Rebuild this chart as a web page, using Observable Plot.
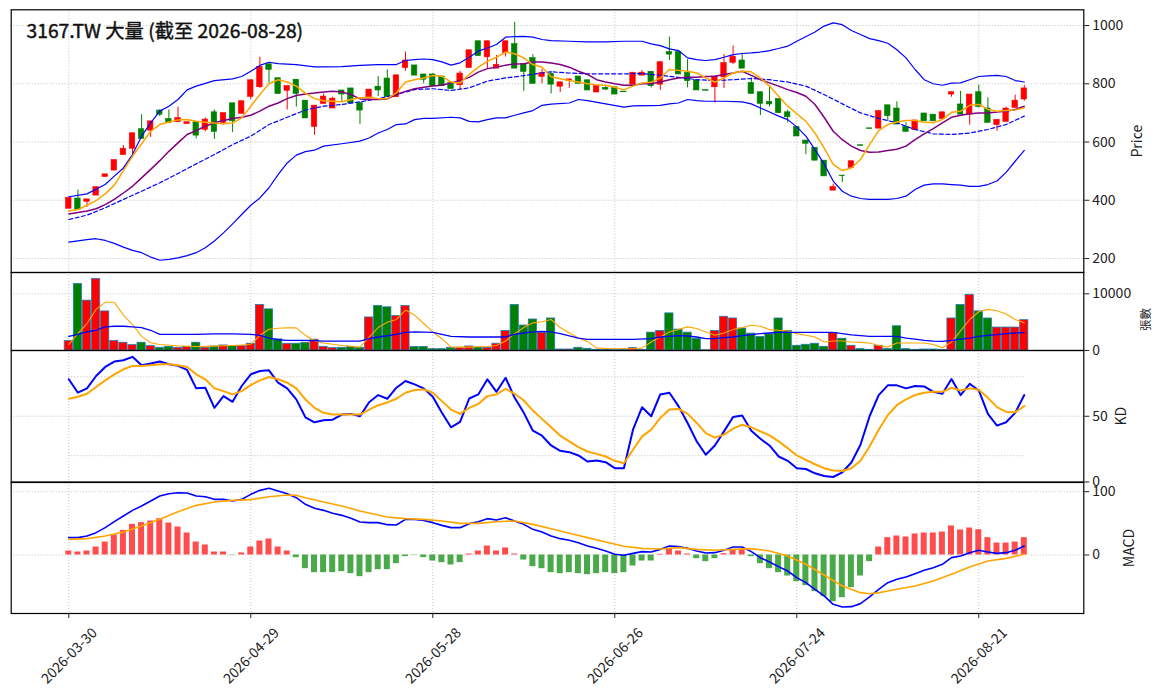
<!DOCTYPE html>
<html><head><meta charset="utf-8">
<script src="https://cdn.jsdelivr.net/npm/d3@7"></script>
<script src="https://cdn.jsdelivr.net/npm/@observablehq/plot@0.6"></script>
<style>
html,body{margin:0;padding:0;background:#fff;}
#chart{width:1163px;height:698px;position:relative;}
#chart svg{display:block;overflow:visible;}
</style></head><body><div id="chart"></div>
<script>
// ---------------- data ----------------
const titleText = "3167.TW 大量 (截至 2026-08-28)";
const tickIdx = [0, 20, 40, 60, 80, 100];
const tickLabels = ["2026-03-30", "2026-04-29", "2026-05-28", "2026-06-26", "2026-07-24", "2026-08-21"];

const open  = [371,406,395,416,480,502,555,577,644,639,708,679,668,662,668,642,702,666,733,697,755,788,867,819,776,814,742,652,731,715,777,784,734,749,790,818,754,854,863,832,832,825,803,795,854,946,891,852,906,936,868,888,824,834,790,809,825,812,770,786,788,773,797,828,841,797,909,909,837,812,778,788,822,872,880,803,771,738,748,702,651,605,580,536,433,485,511,589,647,646,726,715,652,641,698,694,679,763,729,694,771,715,658,669,717,746];
const high  = [408,435,403,445,489,538,588,630,694,671,711,710,720,668,668,683,710,699,733,740,812,891,867,819,792,814,742,725,765,754,777,784,734,780,825,848,829,909,863,832,834,825,803,843,915,946,946,897,946,1011,868,900,849,843,805,815,825,812,792,792,788,773,838,845,843,874,960,909,883,812,778,825,900,930,905,820,771,792,748,709,651,605,580,536,456,485,534,589,647,709,726,738,666,674,698,694,702,771,774,763,795,752,676,720,761,795];
const low   = [371,368,376,416,480,502,555,557,611,616,687,666,668,662,611,635,609,658,633,697,746,784,802,765,710,720,681,623,731,715,740,733,660,749,756,754,754,843,828,800,792,792,782,779,854,895,849,852,892,852,774,800,800,765,770,784,800,777,770,777,763,771,797,828,786,777,880,832,786,777,776,734,784,866,852,765,691,720,699,666,619,557,536,482,433,461,511,587,645,646,671,660,635,641,671,671,679,754,694,658,717,666,637,669,717,740];
const close = [408,368,403,445,489,538,577,630,611,671,694,666,682,668,622,677,635,699,671,740,812,857,848,765,792,765,681,725,756,749,763,733,708,780,777,754,829,880,828,814,792,792,782,835,915,895,946,865,946,852,841,800,837,797,805,815,800,777,792,780,763,771,838,838,792,874,900,832,809,777,776,825,871,893,852,765,731,729,699,685,619,594,536,482,445,483,534,587,645,706,689,660,635,674,671,671,702,771,694,763,721,666,676,715,742,784];
const volume = [1666,11720,8800,12610,6900,1670,1370,950,1370,770,480,650,480,600,1370,480,710,890,770,770,1190,8030,7260,1960,1190,1190,1370,1900,650,420,480,650,480,5830,7850,7620,6070,7850,600,600,240,240,480,480,710,540,480,1190,3450,8030,4400,5470,3090,5650,180,180,480,300,120,120,120,180,420,120,3150,3450,6550,3690,3150,2080,50,3450,5950,5650,3870,2975,2380,2860,5650,3450,830,1010,1190,650,3090,2080,830,240,120,830,240,4280,240,120,180,180,120,5650,8030,9820,6900,5650,4050,4050,4050,5350];

// price overlays [bar index, value]
const ma5 = [[0,363],[1,368],[2,383],[3,399],[4,422],[5,452],[6,502],[7,551],[8,594],[9,637],[10,660],[11,669],[12,676],[13,677],[14,671],[15,668],[16,665],[17,663],[18,665],[19,683],[20,723],[21,763],[22,800],[23,814],[24,806],[25,792],[26,768],[27,749],[28,742],[29,740],[30,738],[31,746],[32,752],[33,754],[34,749],[35,749],[36,769],[37,806],[38,814],[39,820],[40,828],[41,826],[42,806],[43,803],[44,832],[45,857],[46,877],[47,891],[48,909],[49,903],[50,889],[51,866],[52,857],[53,824],[54,817],[55,811],[56,806],[57,800],[58,797],[59,795],[60,788],[61,779],[62,792],[63,803],[64,805],[65,820],[66,849],[67,846],[68,843],[69,837],[70,820],[71,806],[72,820],[73,837],[74,843],[75,841],[76,820],[77,792],[78,757],[79,723],[80,697],[81,671],[82,631],[83,580],[84,523],[85,502],[86,511],[87,540],[88,591],[89,639],[90,660],[91,669],[92,674],[93,674],[94,668],[95,666],[96,677],[97,702],[98,706],[99,726],[100,729],[101,712],[102,706],[103,708],[104,710],[105,717]];
const ma10 = [[0,353],[2,363],[3,371],[4,385],[5,403],[6,425],[7,448],[8,477],[9,506],[10,536],[11,568],[12,597],[13,626],[14,639],[15,654],[16,666],[17,674],[18,681],[19,685],[20,692],[21,706],[22,723],[23,734],[24,749],[25,760],[26,765],[27,768],[28,772],[29,774],[30,772],[31,763],[32,748],[33,746],[34,746],[35,748],[36,763],[37,774],[38,783],[39,788],[40,792],[41,795],[42,803],[43,811],[44,822],[45,840],[46,852],[47,857],[48,864],[49,868],[50,869],[51,875],[52,875],[53,871],[54,866],[55,857],[56,843],[57,832],[58,814],[59,806],[60,800],[61,795],[62,795],[63,800],[64,800],[65,806],[66,814],[67,820],[68,822],[69,822],[70,825],[71,826],[72,832],[73,837],[74,843],[75,829],[76,814],[77,803],[78,792],[79,780],[80,770],[81,757],[82,729],[83,685],[84,637],[85,608],[86,586],[87,571],[88,565],[89,566],[90,571],[91,575],[92,586],[93,608],[94,628],[95,646],[96,666],[97,685],[98,692],[99,697],[100,700],[101,700],[102,703],[103,706],[104,712],[105,723]];
const bbUp = [[0,412],[2,422],[4,454],[5,483],[6,511],[7,557],[8,620],[9,666],[10,706],[11,723],[12,746],[13,779],[14,792],[16,811],[18,817],[19,825],[20,843],[21,863],[22,874],[23,869],[25,866],[27,858],[28,858],[30,859],[32,863],[34,866],[36,866],[37,880],[38,883],[39,885],[40,883],[41,875],[42,864],[43,872],[44,891],[45,912],[46,923],[47,935],[48,960],[49,962],[50,963],[51,960],[52,952],[53,948],[55,946],[57,944],[59,944],[61,946],[63,946],[64,937],[65,931],[66,920],[67,914],[68,889],[69,883],[70,880],[71,883],[72,891],[73,900],[74,904],[75,906],[76,909],[77,914],[78,921],[79,929],[80,946],[82,978],[83,998],[84,1009],[85,1003],[86,983],[87,969],[88,955],[89,948],[90,939],[91,917],[92,889],[93,849],[94,814],[95,800],[96,795],[97,802],[98,803],[99,814],[100,825],[101,827],[102,829],[103,825],[104,811],[105,806]];
const bbMid = [[0,334],[2,349],[4,374],[6,403],[8,431],[10,460],[12,492],[14,525],[16,557],[18,591],[20,620],[22,660],[24,685],[26,710],[28,723],[30,729],[32,738],[34,749],[36,763],[38,780],[40,783],[42,777],[44,786],[46,809],[48,820],[50,828],[52,837],[53,841],[55,837],[57,834],[59,834],[61,834],[63,835],[65,829],[67,822],[69,814],[71,811],[73,814],[75,818],[77,814],[79,806],[81,792],[83,763],[85,731],[87,700],[89,681],[91,666],[93,643],[95,628],[97,626],[99,631],[101,643],[103,660],[105,689]];
const bbLow = [[0,256],[2,265],[3,268],[4,262],[5,252],[6,239],[7,228],[8,220],[9,205],[10,194],[11,197],[12,202],[13,210],[14,220],[15,237],[16,260],[17,288],[18,319],[19,351],[20,383],[21,408],[22,443],[23,488],[24,528],[25,555],[26,567],[27,572],[28,586],[30,594],[32,603],[33,614],[34,631],[35,643],[36,660],[37,662],[38,677],[39,681],[40,681],[42,685],[43,683],[44,671],[45,669],[46,677],[47,683],[48,683],[49,692],[50,700],[51,708],[52,726],[53,730],[55,734],[56,746],[57,742],[59,731],[61,720],[62,724],[64,725],[65,726],[66,731],[67,734],[68,746],[69,742],[70,740],[72,740],[74,738],[75,731],[76,717],[77,703],[78,689],[79,677],[80,652],[81,620],[82,574],[83,525],[84,466],[85,431],[86,414],[87,406],[88,403],[90,403],[91,406],[92,414],[93,437],[94,452],[95,456],[96,456],[97,454],[98,452],[99,448],[100,448],[101,454],[102,466],[103,496],[104,534],[105,571]];

// volume moving averages [bar index, value]
const volMa5 = [[0,1070],[1,2975],[2,4760],[3,7260],[4,8500],[5,8500],[6,6250],[7,4580],[8,2500],[9,1370],[10,1070],[12,830],[14,710],[16,770],[18,890],[20,1070],[21,2680],[22,3750],[23,3930],[24,3990],[25,3990],[26,2680],[27,1670],[28,1310],[30,890],[32,600],[33,2380],[34,4050],[35,5000],[36,5470],[37,7140],[38,6250],[39,4760],[40,3270],[41,2080],[42,600],[44,600],[46,710],[47,890],[48,1670],[49,2975],[50,4050],[51,4880],[52,5060],[53,5470],[54,4050],[55,3090],[56,2200],[57,1610],[58,420],[60,300],[62,300],[63,420],[64,1490],[65,2380],[66,3270],[67,3690],[68,4165],[69,3870],[70,3270],[71,2680],[72,3090],[73,3690],[74,4050],[75,4460],[76,4280],[77,3690],[78,3570],[79,3450],[80,2975],[81,2680],[82,2380],[83,1490],[84,1670],[85,1670],[86,1490],[87,1430],[88,1310],[89,890],[90,600],[91,1310],[92,1310],[93,1310],[94,1310],[95,1070],[96,480],[97,1490],[98,3450],[99,5470],[100,6840],[101,7260],[102,7020],[103,6430],[104,5470],[105,4880]];
const volMa20 = [[0,2500],[1,2860],[2,3270],[3,3570],[4,4165],[5,4280],[6,4280],[7,4165],[8,4050],[9,3570],[10,2860],[12,2860],[14,2860],[16,2920],[18,2920],[20,2860],[21,2680],[22,2200],[23,1900],[24,1785],[26,1785],[28,1670],[30,1670],[32,1670],[33,2080],[34,2380],[35,2600],[36,2860],[37,3210],[38,3270],[40,3210],[42,2500],[44,2380],[46,2380],[48,2380],[49,2860],[50,3090],[51,3270],[52,3390],[53,3270],[54,2975],[55,2560],[56,2200],[57,1960],[58,1960],[60,1960],[62,1960],[64,2080],[65,2380],[66,2500],[67,2620],[68,2560],[69,2380],[70,2080],[71,2080],[72,2260],[73,2380],[74,2620],[75,2800],[76,2975],[77,3090],[78,3210],[79,3210],[81,3210],[83,3210],[84,3210],[85,2975],[86,2740],[87,2620],[88,2500],[89,2500],[90,2500],[91,2500],[92,2200],[93,2020],[94,1785],[95,1670],[96,1610],[97,1785],[98,2020],[99,2200],[100,2500],[101,2680],[102,2800],[103,2975],[104,3090],[105,3150]];

// KD
const kLine = [78.1,67.9,71.2,80.6,87.5,91.6,92.6,95.2,88.8,90.1,91.6,89.5,88.3,85.2,71.2,71.7,56.4,65.3,61.0,73.0,81.9,84.4,84.9,75.5,71.2,62.8,49.2,45.4,46.9,47.4,51.3,51.8,50.0,60.7,66.1,63.3,71.7,76.8,74.2,71.2,64.8,52.6,41.6,45.7,63.5,66.6,78.1,68.6,79.3,64.0,52.6,39.0,35.2,27.8,23.7,22.7,20.2,15.6,16.3,15.1,10.5,10.5,39.8,56.9,50.0,66.6,67.9,57.7,44.9,30.9,20.7,27.8,38.5,49.5,50.5,39.0,32.9,27.8,19.4,16.1,10.5,9.9,6.6,4.6,3.8,7.4,14.8,28.3,50.0,66.1,73.5,73.5,71.2,73.0,72.7,68.6,67.1,78.3,66.1,74.7,69.6,51.8,42.9,45.4,52.6,66.1];
const dLine = [63.3,64.8,67.1,72.2,77.3,81.9,85.7,88.3,88.3,88.8,89.5,89.5,88.8,87.5,81.9,78.1,71.2,69.1,66.6,69.1,73.7,77.3,79.8,78.1,75.5,71.2,62.8,56.4,52.6,51.3,51.3,51.3,51.3,55.1,58.4,60.5,63.3,67.9,69.9,70.4,67.9,61.5,55.1,51.8,56.4,59.4,65.3,66.6,70.9,67.1,62.0,54.3,48.0,41.6,35.2,30.9,26.5,23.2,21.4,19.4,16.1,14.3,24.5,34.7,39.8,48.7,55.1,55.6,51.8,44.9,37.2,33.8,36.0,40.6,43.6,41.6,38.5,35.5,30.9,25.8,20.2,16.8,13.5,10.5,8.7,8.4,10.5,16.1,27.0,39.8,50.8,58.4,62.8,66.1,67.9,68.6,68.6,71.7,69.6,71.2,70.2,64.0,56.9,53.3,53.1,57.7];
const kdRefLines = [20, 80];

// MACD
const difLine = [27.4,27.4,30.0,35.3,43.2,52.6,61.6,70.5,77.4,85.3,93.2,96.8,98.4,97.9,93.2,92.1,87.9,87.9,85.3,87.9,95.8,102.1,105.3,101.1,96.8,90.5,80.0,73.7,70.5,65.8,62.6,57.9,52.1,51.1,51.1,47.9,47.4,56.3,56.3,54.7,51.1,46.8,43.2,43.2,49.5,52.6,57.4,55.3,58.9,53.7,48.4,40.5,36.3,30.0,25.8,23.2,19.5,14.2,10.5,6.3,1.1,-0.5,2.6,5.3,4.7,8.9,14.2,13.2,10.5,6.3,3.2,3.7,7.4,12.6,12.6,5.3,-4.2,-11.1,-18.4,-25.3,-35.8,-43.7,-54.2,-64.7,-77.9,-82.1,-81.6,-76.8,-66.3,-54.2,-43.7,-38.4,-34.7,-29.5,-24.2,-20.0,-14.7,-4.2,-1.6,3.7,7.4,4.7,2.6,3.7,7.4,14.2];
const deaLine = [[0,24.7],[2,25.8],[4,30.0],[6,36.3],[8,45.8],[10,56.3],[12,68.4],[14,78.4],[16,83.7],[18,86.3],[20,87.4],[22,92.1],[24,94.7],[25,94.2],[26,90.5],[28,83.7],[30,77.4],[32,69.5],[34,63.2],[35,60.0],[37,57.4],[39,56.3],[41,53.7],[43,50.0],[45,50.0],[47,52.6],[49,53.7],[51,48.4],[53,41.6],[55,34.2],[57,27.4],[59,20.5],[61,13.7],[63,10.5],[65,9.5],[67,11.6],[69,8.9],[71,7.6],[73,8.9],[75,10.0],[77,6.3],[79,-1.6],[81,-14.7],[83,-31.6],[85,-48.9],[87,-59.5],[88,-61.1],[89,-59.5],[91,-54.2],[93,-48.9],[95,-41.1],[97,-30.5],[99,-18.9],[101,-9.5],[103,-5.3],[105,1.1]];
const macdHist = [6.3,4.7,6.3,12.6,20.5,31.6,38.9,48.4,51.1,53.7,57.4,50.5,44.2,34.7,20.5,15.8,4.7,4.7,-0.5,3.2,12.6,22.1,25.3,12.6,6.3,-4.2,-21.6,-27.9,-27.9,-27.9,-26.3,-29.5,-34.2,-27.9,-23.2,-23.2,-13.7,-2.6,-0.5,-4.2,-9.5,-12.1,-15.8,-12.1,1.6,6.3,14.2,6.3,11.1,1.6,-7.9,-18.4,-21.6,-27.9,-29.5,-27.9,-29.5,-31.1,-29.5,-27.9,-29.5,-27.9,-17.4,-9.5,-9.5,1.1,10.0,6.3,1.6,-5.8,-10.5,-5.8,2.1,7.4,8.9,-2.6,-13.7,-21.6,-27.9,-33.2,-42.1,-48.4,-57.9,-65.8,-73.7,-67.4,-51.6,-33.2,-10.5,12.6,27.4,30.0,28.4,33.2,34.7,34.7,36.3,45.8,39.5,42.6,40.0,27.4,18.9,18.9,20.5,27.4];

// ---------------- layout ----------------
const W = 1163, ML = 10.7, MR = 79.7;
const xDomain = [-6.33, 111.54];
const FONT = "'Noto Sans CJK TC','Noto Sans CJK SC','Noto Sans',sans-serif";
const idx = d3.range(open.length);
const isUp = i => close[i] >= open[i];
const cColor = i => isUp(i) ? "#ff0000" : "#008000";
const grid = {stroke: "#b0b0b0", strokeWidth: 0.8, strokeDasharray: "1,2"};
const yAxis = (ticks) => Plot.axisY(ticks, {anchor: "right", tickSize: 5, tickPadding: 3.5, label: null, tickFormat: d => String(d), fontSize: 14, fill: "#222"});
const sideLabel = (t, dx, opts = {}) => Plot.text([t], {frameAnchor: "right", dx, rotate: -90, textAnchor: "middle", lineAnchor: "middle", fontSize: 14, fill: "#222", ...opts});
const xGrid = Plot.ruleX(tickIdx, {x: d => d, ...grid});
const pair = (stroke, strokeWidth, extra = {}) => ({x: d => d[0], y: d => d[1], stroke, strokeWidth, ...extra});

function panel(height, marginTop, marginBottom, yDomain, marks, xAxis = null) {
  return Plot.plot({
    width: W, height, marginLeft: ML, marginRight: MR, marginTop, marginBottom,
    x: {domain: xDomain, axis: xAxis},
    y: {domain: yDomain},
    color: {type: "identity"},
    style: {fontFamily: FONT, fontSize: "14px", background: "transparent", overflow: "visible", color: "#222"},
    marks
  });
}

const pricePlot = panel(272, 9.3, 0, [152, 1054], [
  Plot.ruleY([200, 400, 600, 800, 1000], {y: d => d, ...grid}),
  xGrid,
  Plot.ruleX(idx, {x: i => i, y1: i => low[i], y2: i => high[i], stroke: cColor, strokeWidth: 1}),
  Plot.rect(idx, {x1: i => i - 0.3, x2: i => i + 0.3, y1: i => open[i], y2: i => close[i], fill: cColor, stroke: cColor, strokeWidth: 0.6}),
  Plot.line(bbUp, pair("blue", 1.2)),
  Plot.line(bbLow, pair("blue", 1.2)),
  Plot.line(bbMid, pair("blue", 1.2, {strokeDasharray: "4,2.5"})),
  Plot.line(ma10, pair("purple", 1.5)),
  Plot.line(ma5, pair("orange", 1.5)),
  Plot.frame({stroke: "black", strokeWidth: 1.2}),
  yAxis([200, 400, 600, 800, 1000]),
  sideLabel("Price", 53.7),
  Plot.text([titleText], {frameAnchor: "top-left", dx: 15.3, dy: 14, textAnchor: "start", lineAnchor: "top", fontSize: 19.3, fill: "#111", stroke: "#111", strokeWidth: 0.45})
]);

const volPlot = panel(78, 0, 0, [0, 13760], [
  Plot.ruleY([10000], {y: d => d, ...grid}),
  xGrid,
  Plot.rect(idx, {x1: i => i - 0.45, x2: i => i + 0.45, y1: 0, y2: i => volume[i], fill: cColor, stroke: "#2a78b0", strokeWidth: 0.8}),
  Plot.line(volMa5, pair("orange", 1.1)),
  Plot.line(volMa20, pair("blue", 1.3)),
  Plot.frame({stroke: "black", strokeWidth: 1.2}),
  yAxis([0, 10000]),
  sideLabel("張數", 62.7, {fontSize: 11.5, dy: 8})
]);

const kdPlot = panel(131.5, 0, 0, [0, 100], [
  Plot.ruleY([50], {y: d => d, ...grid}),
  Plot.ruleY(kdRefLines, {y: d => d, x1: 0, x2: 105, ...grid}),
  xGrid,
  Plot.line(idx, {x: i => i, y: i => kLine[i], stroke: "blue", strokeWidth: 2}),
  Plot.line(idx, {x: i => i, y: i => dLine[i], stroke: "orange", strokeWidth: 2}),
  Plot.frame({stroke: "black", strokeWidth: 1.2}),
  yAxis([0, 50]),
  sideLabel("KD", 37.7)
]);

const macdPlot = panel(216.5, 0, 85.5, [-92.4, 114.5], [
  Plot.ruleY([0, 100], {y: d => d, ...grid}),
  xGrid,
  Plot.rect(idx, {x1: i => i - 0.33, x2: i => i + 0.33, y1: 0, y2: i => macdHist[i], fill: i => macdHist[i] >= 0 ? "#ff4c4c" : "#4aaa4a"}),
  Plot.line(idx, {x: i => i, y: i => difLine[i], stroke: "blue", strokeWidth: 1.6}),
  Plot.line(deaLine, pair("orange", 1.6)),
  Plot.frame({stroke: "black", strokeWidth: 1.2}),
  yAxis([0, 100]),
  sideLabel("MACD", 45.7),
  Plot.axisX(tickIdx, {anchor: "bottom", tickSize: 5, tickFormat: () => "", label: null}),
  Plot.text(tickIdx, {x: d => d, text: (d, k) => tickLabels[k], frameAnchor: "bottom", rotate: -45, textAnchor: "end", lineAnchor: "middle", dx: 26, dy: 17, fontSize: 14, fill: "#222"})
], undefined);

const chart = document.getElementById("chart");
[pricePlot, volPlot, kdPlot, macdPlot].forEach(p => chart.appendChild(p));
</script>
</body></html>
